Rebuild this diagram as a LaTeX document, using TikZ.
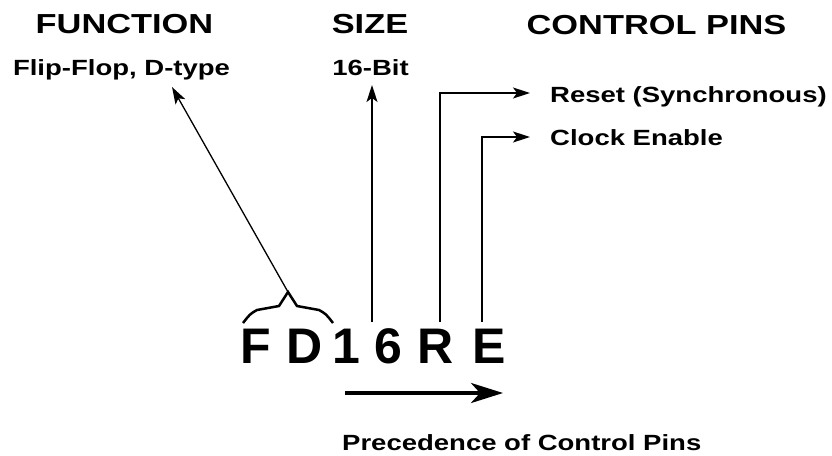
\documentclass[tikz,border=0pt]{standalone}
\usepackage{fontspec}
\setmainfont{Liberation Sans}[FakeStretch=1.25]
\newfontfamily\partfont{Liberation Sans}
\usetikzlibrary{arrows.meta}

\begin{document}
\begin{tikzpicture}[
  x=1pt,y=-1pt,
  head/.style={font=\bfseries\fontsize{27.5}{30}\selectfont,inner sep=0pt,anchor=base},
  note/.style={font=\bfseries\fontsize{22}{26}\selectfont,inner sep=0pt,anchor=base},
  glyph/.style={font=\partfont\bfseries\fontsize{50}{60}\selectfont,inner sep=0pt,anchor=base},
  arrow/.style={-{Stealth[length=17pt,width=11pt,inset=4pt]},line width=1.3pt},
  bigarrow/.style={-{Stealth[length=32pt,width=20pt,inset=9pt]},line width=3.5pt},
  brace/.style={line width=2.5pt,line join=miter}
]
\useasboundingbox (0,0) rectangle (832,455);
% headings
\node[head] (function) at (124.5,33) {FUNCTION};
\node[head] (size) at (370,33) {SIZE};
\node[head] (pins) at (656.5,34) {CONTROL PINS};
% descriptions
\node[note] (fflabel) at (121.5,75) {Flip-Flop, D-type};
\node[note] (bitlabel) at (370.5,75) {16-Bit};
\node[note,anchor=base west] (reset) at (550,102) {Reset (Synchronous)};
\node[note,anchor=base west] (clken) at (550,145) {Clock Enable};
\node[note,anchor=base west] (prec) at (342,450) {Precedence of Control Pins};
% part name
\node[glyph] (pF) at (256,363) {F};
\node[glyph] (pD) at (305,363) {D};
\node[glyph] (p1) at (346,363) {1};
\node[glyph] (p6) at (388,363) {6};
\node[glyph] (pR) at (436,363) {R};
\node[glyph] (pE) at (489,363) {E};
% connector ends
\coordinate (braceL) at (243,323);
\coordinate (braceR) at (333,323);
\coordinate (bracetip) at (288,292);
\coordinate (fftip) at (172,87);
\coordinate (szfoot) at (372,322);
\coordinate (rfoot) at (440,322);
\coordinate (rtip) at (530,93);
\coordinate (efoot) at (482,322);
\coordinate (etip) at (530,137);
\coordinate (precA) at (345,393);
\coordinate (precB) at (503,393);
% brace over F D
\draw[brace] (braceL) .. controls (250,314) .. (257,310) -- (279,306) -- (bracetip) -- (297,306) -- (319,310) .. controls (326,314) .. (braceR);
\draw[arrow] (bracetip) -- (fftip);
\draw[arrow] (szfoot) -- (szfoot |- 0,85);
\draw[arrow] (rfoot) |- (rtip);
\draw[arrow] (efoot) |- (etip);
\draw[bigarrow] (precA) -- (precB);
\end{tikzpicture}
\end{document}
